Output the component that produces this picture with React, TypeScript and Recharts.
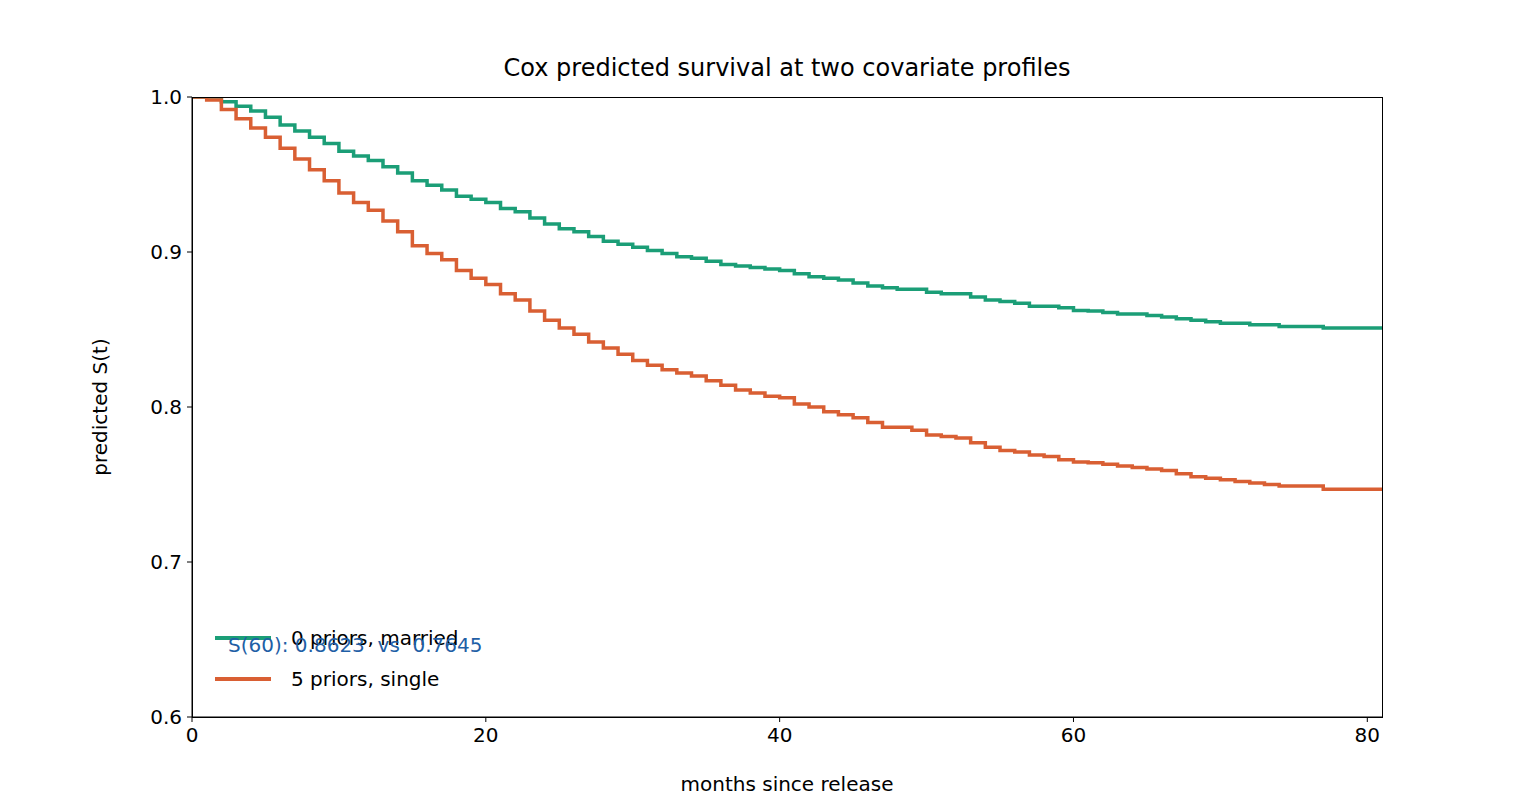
import React from 'react';
import { LineChart, Line, XAxis, YAxis, Label } from 'recharts';

// Months since release (step after each month)
const months = Array.from({ length: 82 }, (_, i) => i);

const marriedZero = [
  1.0, 1.0, 0.997, 0.994, 0.991, 0.987, 0.982, 0.978, 0.974, 0.97, 0.965, 0.962, 0.959, 0.955,
  0.951, 0.946, 0.943, 0.94, 0.936, 0.934, 0.932, 0.928, 0.926, 0.922, 0.918, 0.915, 0.913,
  0.91, 0.907, 0.905, 0.903, 0.901, 0.899, 0.897, 0.896, 0.894, 0.892, 0.891, 0.89, 0.889,
  0.888, 0.886, 0.884, 0.883, 0.882, 0.88, 0.878, 0.877, 0.876, 0.876, 0.874, 0.873, 0.873,
  0.871, 0.869, 0.868, 0.867, 0.865, 0.865, 0.864, 0.8623, 0.862, 0.861, 0.86, 0.86, 0.859,
  0.858, 0.857, 0.856, 0.855, 0.854, 0.854, 0.853, 0.853, 0.852, 0.852, 0.852, 0.851, 0.851,
  0.851, 0.851, 0.851,
];

const singleFive = [
  1.0, 0.998, 0.992, 0.986, 0.98, 0.974, 0.967, 0.96, 0.953, 0.946, 0.938, 0.932, 0.927, 0.92,
  0.913, 0.904, 0.899, 0.895, 0.888, 0.883, 0.879, 0.873, 0.869, 0.862, 0.856, 0.851, 0.847,
  0.842, 0.838, 0.834, 0.83, 0.827, 0.824, 0.822, 0.82, 0.817, 0.814, 0.811, 0.809, 0.807,
  0.806, 0.802, 0.8, 0.797, 0.795, 0.793, 0.79, 0.787, 0.787, 0.785, 0.782, 0.781, 0.78,
  0.777, 0.774, 0.772, 0.771, 0.769, 0.768, 0.766, 0.7645, 0.764, 0.763, 0.762, 0.761, 0.76,
  0.759, 0.757, 0.755, 0.754, 0.753, 0.752, 0.751, 0.75, 0.749, 0.749, 0.749, 0.747, 0.747,
  0.747, 0.747, 0.747,
];

const xTicks = [0, 20, 40, 60, 80];
const yTicks = [0.6, 0.7, 0.8, 0.9, 1.0];

const GREEN = '#1b9e77';
const ORANGE = '#d95f33';
const FONT = '"DejaVu Sans", sans-serif';

const data = months.map((m, i) => ({ month: m, a: marriedZero[i], b: singleFive[i] }));

export default function App() {
  return (
    <div style={{ position: 'absolute', left: 0, top: 0, width: 1536, height: 806, background: '#fff', fontFamily: FONT }}>
      <div style={{ position: 'absolute', left: 192, width: 1190, top: 54, textAlign: 'center', fontSize: 24 }}>
        Cox predicted survival at two covariate profiles
      </div>
      <LineChart width={1536} height={806} data={data} margin={{ top: 97, right: 154, left: 102, bottom: 15 }}>
        <XAxis
          dataKey="month"
          type="number"
          domain={[0, 81]}
          ticks={xTicks}
          height={74}
          tick={{ fontSize: 20, fill: '#000', fontFamily: FONT, dy: 4 }}
          stroke="#000"
          tickSize={5}
        >
          <Label value="months since release" position="insideBottom" offset={0} style={{ fontSize: 20, fill: '#000', fontFamily: FONT }} />
        </XAxis>
        <YAxis
          type="number"
          domain={[0.6, 1.0]}
          ticks={yTicks}
          width={90}
          allowDataOverflow
          tickFormatter={(v: number) => v.toFixed(1)}
          tick={{ fontSize: 20, fill: '#000', fontFamily: FONT, dx: -3 }}
          stroke="#000"
          tickSize={5}
        >
          <Label value="predicted S(t)" angle={-90} position="insideLeft" offset={-2} style={{ fontSize: 20, fill: '#000', fontFamily: FONT, textAnchor: 'middle' }} />
        </YAxis>
        <Line type="stepAfter" dataKey="a" stroke={GREEN} strokeWidth={3.5} dot={false} isAnimationActive={false} />
        <Line type="stepAfter" dataKey="b" stroke={ORANGE} strokeWidth={3.5} dot={false} isAnimationActive={false} />
      </LineChart>
      <div style={{ position: 'absolute', left: 192, top: 97, width: 1189, height: 619, border: '1px solid #000', pointerEvents: 'none' }} />
      <div style={{ position: 'absolute', left: 215, top: 618, fontSize: 20, lineHeight: '40px' }}>
        <div style={{ display: 'flex', alignItems: 'center' }}>
          <span style={{ width: 56, height: 3.5, background: GREEN, display: 'inline-block', marginRight: 20 }} />
          0 priors, married
        </div>
        <div style={{ display: 'flex', alignItems: 'center', marginTop: 1 }}>
          <span style={{ width: 56, height: 3.5, background: ORANGE, display: 'inline-block', marginRight: 20 }} />
          5 priors, single
        </div>
      </div>
      <div style={{ position: 'absolute', left: 228, top: 633, fontSize: 20, color: '#1f5fa6', whiteSpace: 'pre' }}>
        S(60): 0.8623  vs  0.7645
      </div>
    </div>
  );
}
